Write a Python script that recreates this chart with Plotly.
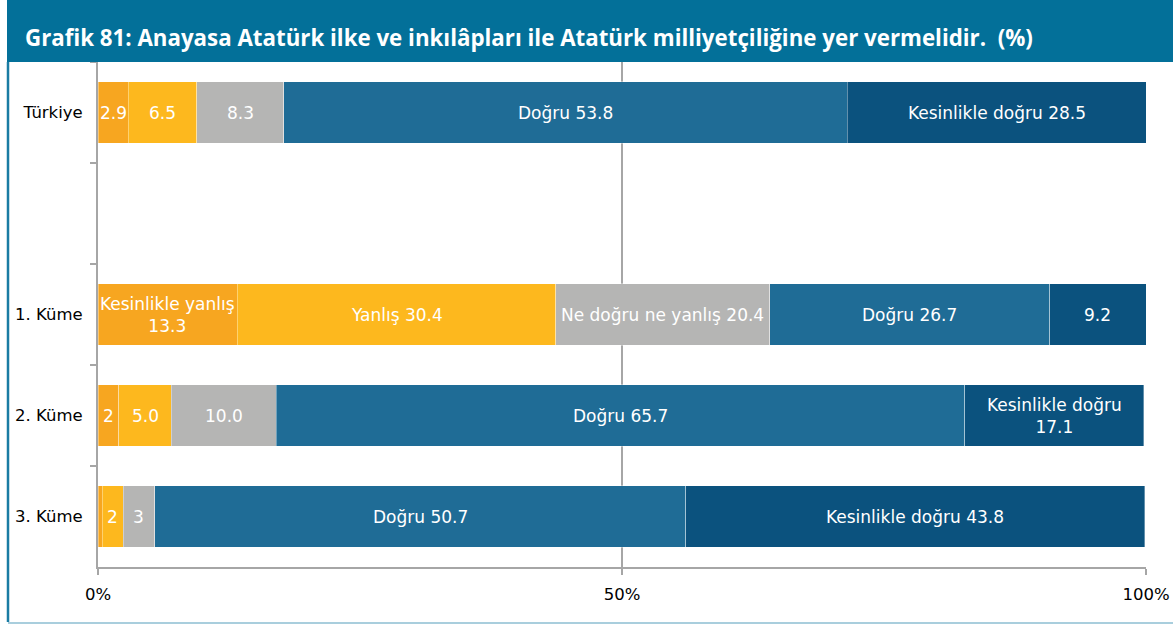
import plotly.graph_objects as go

# Response categories and colours
responses = ["Kesinlikle yanlış", "Yanlış", "Ne doğru ne yanlış", "Doğru", "Kesinlikle doğru"]
colors = ["#F7A620", "#FDB81E", "#B5B5B4", "#1F6C96", "#0B527E"]

# Groups (blank row separates the national total from the clusters)
groups = ["Türkiye", " ", "1. Küme", "2. Küme", "3. Küme"]
bar_groups = ["Türkiye", "1. Küme", "2. Küme", "3. Küme"]

# Percentages per response for each group, in bar_groups order
kesinlikle_yanlis = [2.9, 13.3, 2, 0.4]
yanlis = [6.5, 30.4, 5.0, 2]
ne_dogru_ne_yanlis = [8.3, 20.4, 10.0, 3]
dogru = [53.8, 26.7, 65.7, 50.7]
kesinlikle_dogru = [28.5, 9.2, 17.1, 43.8]

# Segment labels as printed inside the bars
labels = {
    "Türkiye": ["2.9", "6.5", "8.3", "Doğru 53.8", "Kesinlikle doğru 28.5"],
    "1. Küme": ["Kesinlikle yanlış<br>13.3", "Yanlış 30.4", "Ne doğru ne yanlış 20.4", "Doğru 26.7", "9.2"],
    "2. Küme": ["2", "5.0", "10.0", "Doğru 65.7", "Kesinlikle doğru<br>17.1"],
    "3. Küme": ["", "2", "3", "Doğru 50.7", "Kesinlikle doğru 43.8"],
}

x_ticks = [0, 50, 100]
x_tick_text = ["0%", "50%", "100%"]

title_text = "Grafik 81: Anayasa Atatürk ilke ve inkılâpları ile Atatürk milliyetçiliğine yer vermelidir.  (%)"

series = [kesinlikle_yanlis, yanlis, ne_dogru_ne_yanlis, dogru, kesinlikle_dogru]

fig = go.Figure()
for name, vals, col in zip(responses, series, colors):
    fig.add_trace(go.Bar(
        y=bar_groups, x=vals, name=name, orientation="h",
        marker=dict(color=col, line=dict(color="rgba(255,255,255,0.6)", width=0.6)),
        width=0.61, hoverinfo="x+name",
    ))

# Labels centred on each segment, placed from cumulative sums
annotations = []
for gi, g in enumerate(bar_groups):
    start = 0.0
    for si, vals in enumerate(series):
        v = vals[gi]
        txt = labels[g][si]
        if txt:
            annotations.append(dict(
                x=start + v / 2, y=g, xref="x", yref="y", text=txt, showarrow=False,
                font=dict(family="DejaVu Sans", size=17, color="white"),
                xanchor="center", yanchor="middle",
            ))
        start += v

# Title text on the banner
annotations.append(dict(
    x=(23 - 98) / 1048, y=1 + 24 / 505, xref="paper", yref="paper", text="<b>" + title_text + "</b>",
    showarrow=False, xanchor="left", yanchor="middle",
    font=dict(family="Open Sans", size=22.3, color="white"),
))

shapes = [
    # title banner
    dict(type="rect", xref="paper", yref="paper", x0=(7 - 98) / 1048, x1=(1173 - 98) / 1048,
         y0=1, y1=1 + 63 / 505, fillcolor="#037099", line=dict(width=0), layer="above"),
    # frame: left edge
    dict(type="line", xref="paper", yref="paper", x0=(8 - 98) / 1048, x1=(8 - 98) / 1048,
         y0=-(622 - 567) / 505, y1=1, line=dict(color="#1A7CA3", width=2.5)),
    # frame: bottom edge
    dict(type="line", xref="paper", yref="paper", x0=(8 - 98) / 1048, x1=(1173 - 98) / 1048,
         y0=-(623 - 567) / 505, y1=-(623 - 567) / 505, line=dict(color="#A9CEDD", width=2)),
]

fig.update_layout(
    barmode="stack",
    width=1173, height=626,
    margin=dict(l=98, r=27, t=62, b=59, autoexpand=False),
    paper_bgcolor="white", plot_bgcolor="white",
    showlegend=False,
    bargap=0.39,
    annotations=annotations,
    shapes=shapes,
    font=dict(family="DejaVu Sans", size=16, color="black"),
)
fig.update_xaxes(
    range=[0, 100], tickvals=x_ticks, ticktext=x_tick_text,
    showgrid=True, gridcolor="#A6A6A6", gridwidth=2,
    showline=True, linecolor="#A6A6A6", linewidth=2,
    ticks="outside", ticklen=6, tickcolor="#A6A6A6", tickwidth=2,
    tickfont=dict(family="DejaVu Sans", size=16.5, color="black"),
    ticklabelstandoff=5,
    zeroline=False, fixedrange=True, automargin=False,
)
fig.update_yaxes(
    type="category", categoryorder="array", categoryarray=groups,
    autorange="reversed", tickson="boundaries",
    showline=True, linecolor="#A6A6A6", linewidth=2,
    ticks="outside", ticklen=6, tickcolor="#A6A6A6", tickwidth=2,
    showgrid=False,
    tickfont=dict(family="DejaVu Sans", size=16.5, color="black"),
    ticklabelstandoff=10, fixedrange=True, automargin=False,
)

fig.write_html("out.html")
